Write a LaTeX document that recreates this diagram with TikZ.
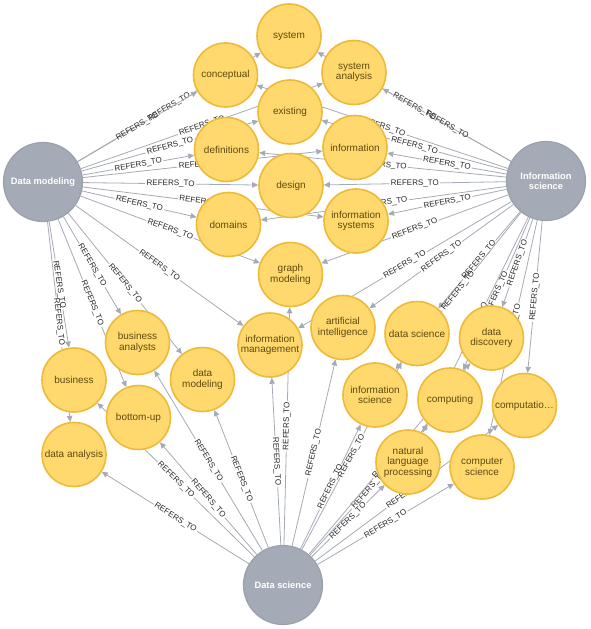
\documentclass[tikz,border=0pt]{standalone}
\usepackage{fontspec}
\setmainfont{Liberation Sans}
\usetikzlibrary{arrows.meta,backgrounds}
\definecolor{cfill}{HTML}{FFD86E}
\definecolor{cline}{HTML}{EDBA39}
\definecolor{ctext}{HTML}{604A0E}
\definecolor{hfill}{HTML}{A5ABB6}
\definecolor{hline}{HTML}{9AA1AC}
\definecolor{relc}{HTML}{A5ABB6}
\tikzset{
 concept/.style={circle, fill=cfill, draw=cline, line width=1.6pt, minimum size=64pt, inner sep=0pt, align=center, text=ctext, font=\fontsize{10}{10.5}\selectfont},
 hub/.style={circle, fill=hfill, draw=hline, line width=1.2pt, minimum size=79pt, inner sep=0pt, align=center, text=white, font=\fontsize{9.3}{10.5}\selectfont\bfseries},
 relline/.style={draw=relc, line width=0.8pt},
 relarrow/.style={relline, -{Triangle[length=6pt,width=5.5pt]}},
 rellabel/.style={sloped, font=\fontsize{8}{8}\selectfont, text=black!85, inner sep=1.5pt, outer sep=0pt}
}
\begin{document}
\begin{tikzpicture}[x=1pt,y=-1pt]
\useasboundingbox (0,0) rectangle (590,629);
% hubs
\node[hub] (hdm) at (43,182) {Data modeling};
\node[hub] (his) at (546,181) {Information\\science};
\node[hub] (hds) at (283,585) {Data science};
% concepts
\node[concept] (system) at (289,36) {system};
\node[concept] (conceptual) at (225.5,75) {conceptual};
\node[concept] (sysanalysis) at (354,72.5) {system\\analysis};
\node[concept] (existing) at (290,112) {existing};
\node[concept] (definitions) at (226.5,149.5) {definitions};
\node[concept] (information) at (355,147.5) {information};
\node[concept] (design) at (291,185.5) {design};
\node[concept] (domains) at (228.5,224.5) {domains};
\node[concept] (infosystems) at (356,221) {information\\systems};
\node[concept] (graphmod) at (290.5,274.5) {graph\\modeling};
\node[concept] (aintel) at (343,327.5) {artificial\\intelligence};
\node[concept] (infomgmt) at (270,345) {information\\management};
\node[concept] (datasci) at (417,333.5) {data science};
\node[concept] (datadisc) at (491.5,338) {data\\discovery};
\node[concept] (infosci) at (375,395) {information\\science};
\node[concept] (computing) at (450,400) {computing};
\node[concept] (computatio) at (524.5,405.5) {computatio…};
\node[concept] (nlp) at (408,462) {natural\\language\\processing};
\node[concept] (compsci) at (482,467) {computer\\science};
\node[concept] (busanalysts) at (137.5,342.5) {business\\analysts};
\node[concept] (datamod) at (202.5,379.5) {data\\modeling};
\node[concept] (business) at (74,380) {business};
\node[concept] (bottomup) at (138.5,417.5) {bottom-up};
\node[concept] (dataanalysis) at (74,454.5) {data analysis};
% relationships
\begin{scope}[on background layer]
\foreach \s/\t in {hdm/system, hdm/conceptual, hdm/sysanalysis, hdm/existing, hdm/definitions, hdm/information, hdm/design, hdm/domains, hdm/infosystems, hdm/graphmod, hdm/infomgmt, hdm/datamod, hdm/busanalysts, hdm/bottomup, hdm/business, hdm/dataanalysis,
 his/system, his/sysanalysis, his/conceptual, his/existing, his/definitions, his/information, his/design, his/domains, his/infosystems, his/graphmod, his/infomgmt, his/aintel, his/datasci, his/infosci, his/datadisc, his/computing, his/nlp, his/computatio, his/compsci,
 hds/dataanalysis, hds/business, hds/bottomup, hds/busanalysts, hds/datamod, hds/infomgmt, hds/graphmod, hds/aintel, hds/infosci, hds/datasci, hds/nlp, hds/computing, hds/datadisc, hds/compsci, hds/computatio}{
  \path (\s) -- node[rellabel, midway, name=L] {REFERS\_TO} (\t);
  \draw[relline] (\s) -- (L);
  \draw[relarrow] (L) -- (\t);
}
\end{scope}
\end{tikzpicture}
\end{document}
